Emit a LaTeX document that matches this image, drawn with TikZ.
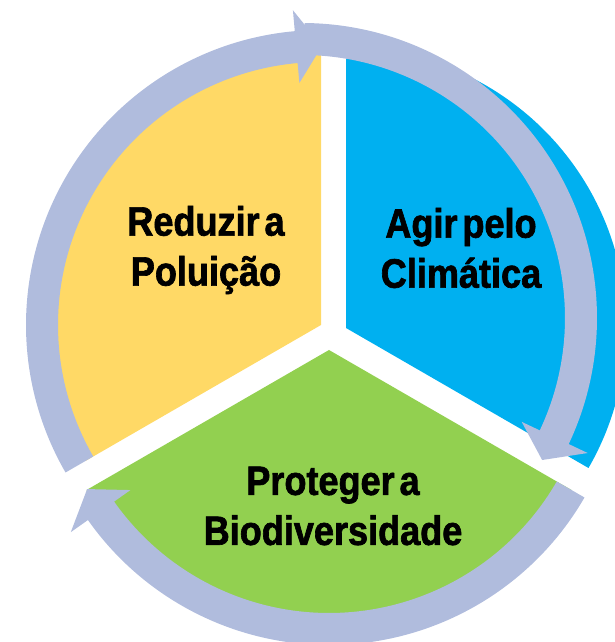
\documentclass[tikz,border=0pt]{standalone}
\usepackage{fontspec}
\newfontfamily\cyclefont{Liberation Sans}[FakeStretch=0.88, BoldFeatures={FakeBold=1.6}]
\definecolor{polyellow}{HTML}{FFD966}
\definecolor{climblue}{HTML}{00B0F0}
\definecolor{biogreen}{HTML}{92D050}
\definecolor{ringblue}{HTML}{B0BCDD}
\tikzset{%
  sector/.style    = {draw=none},%
  ringarrow/.style = {draw=none, fill=ringblue},%
  caption/.style   = {align=center, inner sep=0pt, text=black,%
                      font=\cyclefont\bfseries\fontsize{20.5}{25}\selectfont,%
                      execute at begin node={\spaceskip=0.12em\relax}}%
}
\begin{document}
\begin{tikzpicture}[x=0.5pt,y=0.5pt]
\useasboundingbox (0,0) rectangle (615,642);
\coordinate (ycen) at (321,317);
\coordinate (bcen) at (346,314);
\coordinate (gcen) at (329,292);
\coordinate (rcen) at (302,324);
\fill[sector, polyellow, shift={(ycen)}] (0,0) -- (90:272)
	arc[start angle=90, end angle=210, radius=272] -- cycle;
\fill[sector, climblue, shift={(bcen)}] (0,0) -- (90:280)
	arc[start angle=90, end angle=-30, radius=280] -- cycle;
\fill[sector, biogreen, shift={(gcen)}] (0,0) -- (210:280)
	arc[start angle=210, end angle=330, radius=280] -- cycle;
\fill[ringarrow, shift={(ycen)}] (210:295)
	arc[start angle=210, end angle=95.1, radius=295] -- (95.1:316) -- (89.8:279)
	-- (95.1:243) -- (95.1:263) arc[start angle=95.1, end angle=210, radius=263] -- cycle;
\fill[ringarrow, shift={(rcen)}] (89.5:295)
	arc[start angle=89.5, end angle=-25.3, radius=295] -- (-25.3:316) -- (-30.6:279)
	-- (-25.3:243) -- (-25.3:263) arc[start angle=-25.3, end angle=89.5, radius=263] -- cycle;
\fill[ringarrow, shift={(gcen)}] (330:295)
	arc[start angle=330, end angle=215.2, radius=295] -- (215.2:316) -- (209.9:279)
	-- (215.2:243) -- (215.2:263) arc[start angle=215.2, end angle=330, radius=263] -- cycle;
\node[caption] (pollution) at (206,392) {Reduzir a\\Poluição};
\node[caption] (climate) at (461,394) {Agir pelo\\Climática};
\node[caption] (biodiversity) at (333,136) {Proteger a\\Biodiversidade};
\end{tikzpicture}
\end{document}
